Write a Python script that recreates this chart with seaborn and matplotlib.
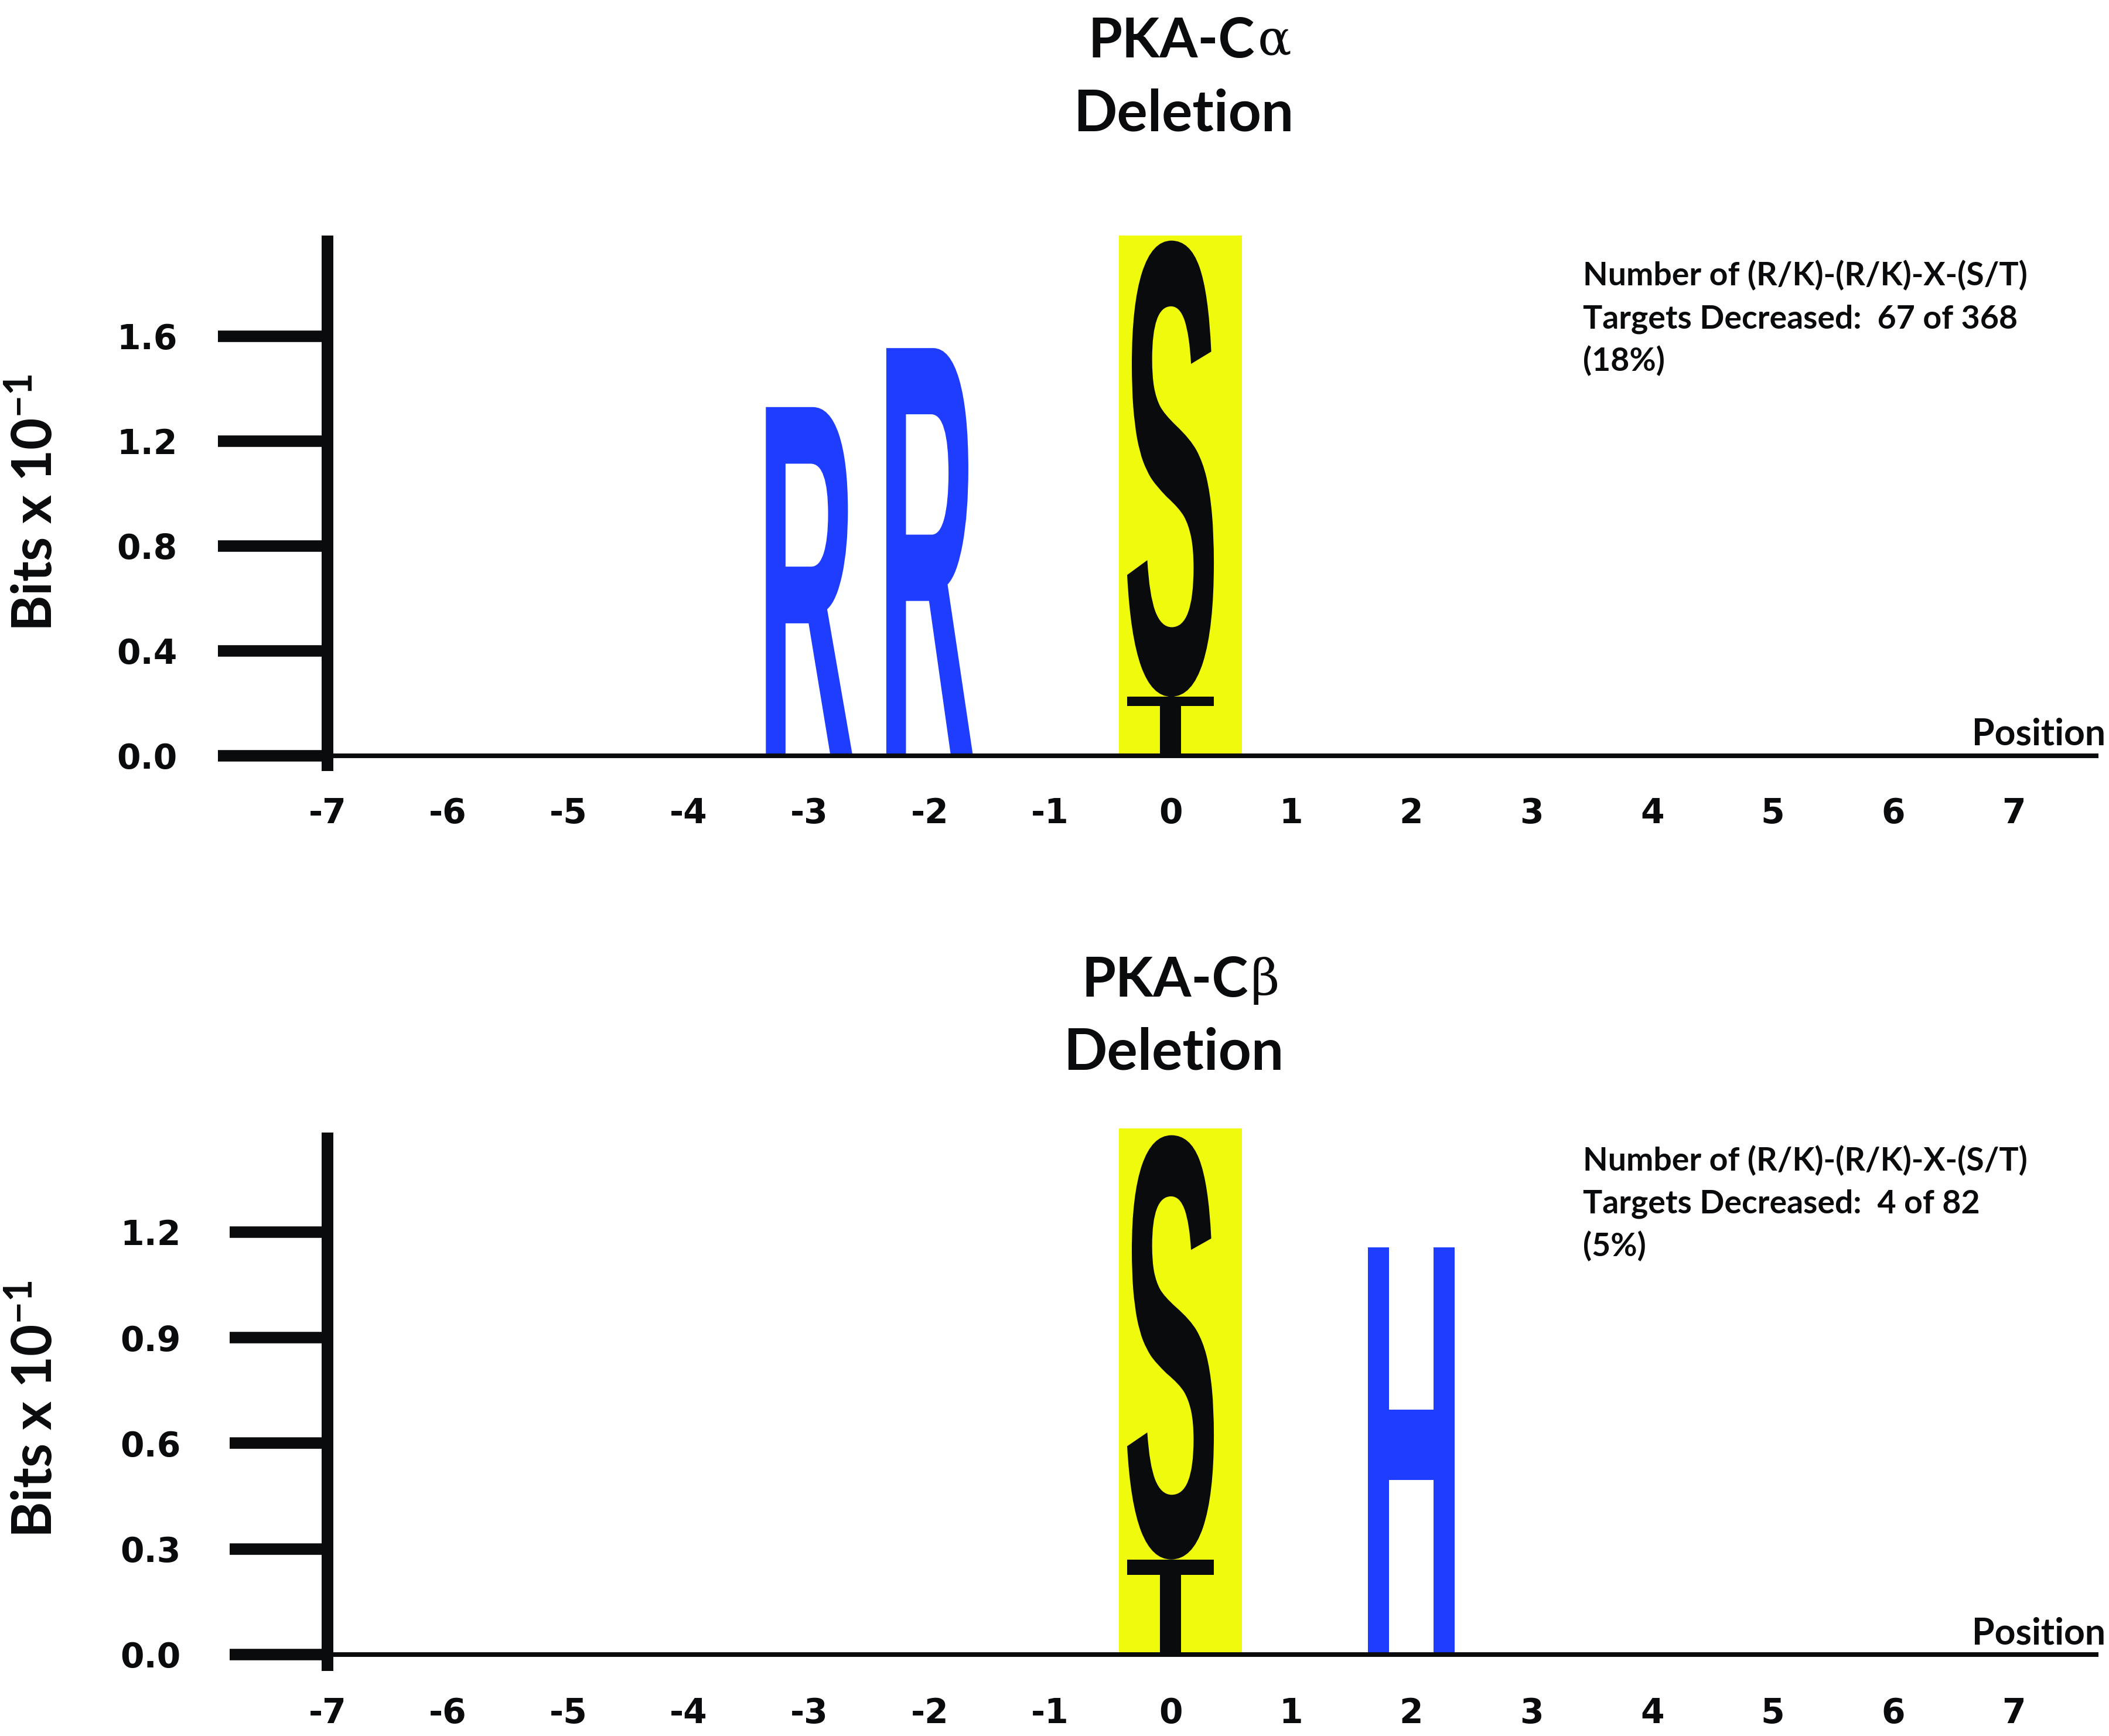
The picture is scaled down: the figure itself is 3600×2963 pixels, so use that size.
import matplotlib
matplotlib.use("Agg")
import matplotlib.pyplot as plt
import seaborn as sns
from matplotlib.font_manager import FontProperties
from matplotlib.patches import PathPatch
from matplotlib.textpath import TextPath
from matplotlib.transforms import Affine2D

# ---- data ----
positions = list(range(-7, 8))
position_labels = [str(p) for p in positions]

alpha_letters = ['R', 'R', 'T', 'S']
alpha_positions = [-3, -2, 0, 0]
alpha_bits = [1.33, 1.555, 0.225, 1.74]
alpha_colors = ['#1f3dff', '#1f3dff', '#0a0b0d', '#0a0b0d']
alpha_yticks = [0.0, 0.4, 0.8, 1.2, 1.6]
alpha_note = ['Number of (R/K)-(R/K)-X-(S/T)',
              'Targets Decreased:  67 of 368',
              '(18%)']

beta_letters = ['T', 'S', 'H']
beta_positions = [0, 0, 2]
beta_bits = [0.27, 1.205, 1.157]
beta_colors = ['#0a0b0d', '#0a0b0d', '#1f3dff']
beta_yticks = [0.0, 0.3, 0.6, 0.9, 1.2]
beta_note = ['Number of (R/K)-(R/K)-X-(S/T)',
             'Targets Decreased:  4 of 82',
             '(5%)']

site_position = 0  # phospho-acceptor site, highlighted

BLACK = '#0a0b0d'
YELLOW = '#f0fa0c'
W, H = 3600, 2963

sns.set_theme(style='white')
plt.rcParams['font.family'] = ['Lato', 'DejaVu Sans']
plt.rcParams['mathtext.default'] = 'regular'

LETTER_FONT = FontProperties(family='Liberation Sans', weight='bold')
TICK_FONT = dict(family='DejaVu Sans', weight='bold', size=14)


def fx(px):
    return px / W


def fy(py):
    return 1 - py / H


def draw_letter(ax, letter, x, bottom, height, color, width=0.72):
    tp = TextPath((0, 0), letter, size=1, prop=LETTER_FONT)
    bb = tp.get_extents()
    tr = (Affine2D().translate(-bb.x0, -bb.y0)
          .scale(width / bb.width, height / bb.height)
          .translate(x - width / 2, bottom))
    ax.add_patch(PathPatch(tr.transform_path(tp), facecolor=color,
                           edgecolor='none', clip_on=False, zorder=3))


def draw_panel(ax, letters, pos, bits, colors, yticks, ylim, tick_len, tick_pad):
    stack = {}
    for letter, p, b, c in zip(letters, pos, bits, colors):
        bottom = stack.get(p, 0.0)
        draw_letter(ax, letter, p, bottom, b, c)
        stack[p] = bottom + b

    # yellow box behind the site column
    ax.fill_between([site_position - 0.43, site_position + 0.595], 0,
                    stack[site_position] + 0.02, color=YELLOW, lw=0,
                    zorder=1, clip_on=False)
    ax.axhline(0, color=BLACK, lw=1.9, zorder=4)

    ax.set_xlim(-7, 7.705)
    ax.set_ylim(*ylim)
    ax.set_xticks(positions, position_labels, **TICK_FONT)
    ax.set_yticks(yticks, [f'{v:.1f}' for v in yticks], **TICK_FONT)
    ax.tick_params(axis='x', length=0, pad=13, colors=BLACK)
    ax.tick_params(axis='y', length=tick_len, width=4.7, pad=tick_pad,
                   colors=BLACK, left=True)
    sns.despine(ax=ax, top=True, right=True, bottom=True)
    ax.spines['left'].set_linewidth(4.8)
    ax.spines['left'].set_color(BLACK)
    ax.grid(False)

    ax.annotate('Position', xy=(1, 0), xycoords=('axes fraction', 'data'),
                xytext=(3, 4.3), textcoords='offset points', ha='right',
                va='baseline', fontsize=15, fontweight='bold', color=BLACK)


def title_block(fig, left_px, base1_px, base2_px, center_px, greek):
    t = fig.text(fx(left_px), fy(base1_px), 'PKA-C', ha='left', va='baseline',
                 fontsize=22.5, fontweight='bold', color=BLACK)
    plt.annotate(greek, xy=(1, 0), xycoords=t, xytext=(1, 0.5),
                 textcoords='offset points', ha='left', va='bottom',
                 fontsize=20.5, family='DejaVu Serif', color=BLACK,
                 annotation_clip=False)
    fig.text(fx(center_px), fy(base2_px), 'Deletion', ha='center',
             va='baseline', fontsize=23.5, fontweight='bold', color=BLACK)


def note_block(fig, lines, left_px, base_px):
    for i, line in enumerate(lines):
        fig.text(fx(left_px), fy(base_px + i * 73), line, ha='left',
                 va='baseline', fontsize=13.3, fontweight='bold', color=BLACK)


fig = plt.figure(figsize=(W / 300, H / 300), dpi=300)

ax1 = fig.add_axes([fx(559), fy(1306), fx(3582) - fx(559), fy(412) - fy(1306)])
draw_panel(ax1, alpha_letters, alpha_positions, alpha_bits, alpha_colors,
           alpha_yticks, (-0.036, 1.962), 45, 16.5)

ax2 = fig.add_axes([fx(559), fy(2842), fx(3582) - fx(559), fy(1943) - fy(2842)])
draw_panel(ax2, beta_letters, beta_positions, beta_bits, beta_colors,
           beta_yticks, (-0.030, 1.466), 40, 20)

for y_mid in (858, 2405):
    fig.text(fx(89), fy(y_mid), 'Bits x 10$^{-1}$', rotation=90,
             rotation_mode='anchor', ha='center', va='baseline',
             fontsize=22.5, fontweight='bold', color=BLACK)

title_block(fig, 1858, 98, 224, 2020, 'α')
title_block(fig, 1846, 1701, 1826, 2003, 'β')

note_block(fig, alpha_note, 2702, 487)
note_block(fig, beta_note, 2702, 1998)

fig.savefig('out.png', dpi=300, facecolor='white')
